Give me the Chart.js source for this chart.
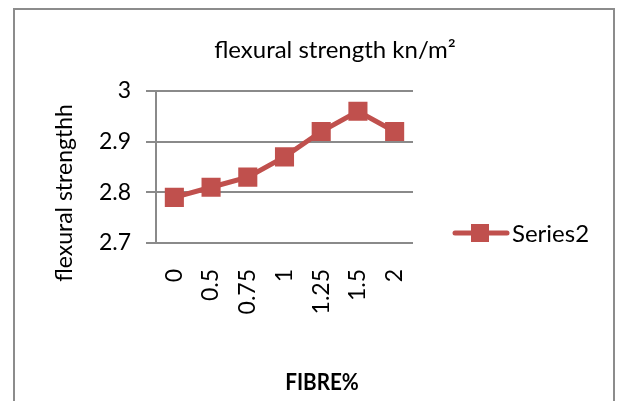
<!DOCTYPE html>
<html>
<head>
<meta charset="utf-8">
<script src="https://cdn.jsdelivr.net/npm/chart.js@4"></script>
<style>
  html, body { margin: 0; padding: 0; background: #fff; }
  #wrap { width: 618px; height: 401px; }
</style>
</head>
<body>
<div id="wrap"><canvas id="c" width="618" height="401"></canvas></div>
<script>
// Flexural strength against fibre content
const fibrePercent = ['0', '0.5', '0.75', '1', '1.25', '1.5', '2'];
const flexuralStrength = [2.79, 2.81, 2.83, 2.87, 2.92, 2.96, 2.92];
const yTicks = [2.7, 2.8, 2.9, 3];

const chartTitle = 'flexural strength kn/m²';
const xTitle = 'FIBRE%';
const yTitle = 'flexural strengthh';
const seriesName = 'Series2';

const FONT = 'Lato, "Noto Sans", sans-serif';
const RED = '#C0504D';
const GRID = '#8a8a8a';

// Title, axis titles, legend and outer frame
const decorations = {
  id: 'decorations',
  beforeDraw(chart) {
    const ctx = chart.ctx;
    ctx.save();
    ctx.fillStyle = '#fff';
    ctx.fillRect(0, 0, chart.width, chart.height);
    ctx.restore();
  },
  afterDraw(chart) {
    const ctx = chart.ctx;
    ctx.save();
    ctx.fillStyle = '#000';
    ctx.textAlign = 'center';
    ctx.textBaseline = 'middle';

    ctx.font = '24px ' + FONT;
    ctx.fillText(chartTitle, 335, 50);

    // bold axis title, slightly condensed
    ctx.save();
    ctx.translate(322, 383);
    ctx.scale(0.9, 1);
    ctx.font = 'bold 23px ' + FONT;
    ctx.fillText(xTitle, 0, 0);
    ctx.restore();

    ctx.save();
    ctx.translate(65, 193);
    ctx.rotate(-Math.PI / 2);
    ctx.font = '23px ' + FONT;
    ctx.fillText(yTitle, 0, 0);
    ctx.restore();

    // legend entry
    const ds = chart.data.datasets[0];
    ctx.strokeStyle = ds.borderColor;
    ctx.lineWidth = 5;
    ctx.lineCap = 'round';
    ctx.beginPath();
    ctx.moveTo(455, 233);
    ctx.lineTo(507, 233);
    ctx.stroke();
    ctx.fillStyle = ds.pointBackgroundColor;
    ctx.fillRect(471, 224, 18, 18);
    ctx.fillStyle = '#000';
    ctx.textAlign = 'left';
    ctx.font = '24px ' + FONT;
    ctx.fillText(ds.label, 512, 234);

    // outer frame
    ctx.strokeStyle = '#8c8c8c';
    ctx.lineWidth = 2;
    ctx.strokeRect(14, 9, 600, 420);
    ctx.restore();
  }
};

new Chart(document.getElementById('c'), {
  type: 'line',
  data: {
    labels: fibrePercent,
    datasets: [{
      label: seriesName,
      data: flexuralStrength,
      borderColor: RED,
      backgroundColor: RED,
      pointBackgroundColor: RED,
      pointBorderColor: RED,
      borderWidth: 5,
      pointStyle: 'rect',
      pointRadius: 13.5,
      pointBorderWidth: 0,
      tension: 0
    }]
  },
  options: {
    responsive: false,
    animation: false,
    devicePixelRatio: 1,
    layout: { padding: { left: 0, top: 91, right: 205, bottom: 0 } },
    plugins: {
      legend: { display: false },
      title: { display: false },
      tooltip: { enabled: false }
    },
    scales: {
      x: {
        offset: true,
        grid: { display: false },
        border: { display: false },
        ticks: {
          color: '#000',
          font: { family: FONT, size: 23 },
          minRotation: 90,
          maxRotation: 90,
          padding: 18,
          autoSkip: false
        },
        afterFit(scale) { scale.height = 158; }
      },
      y: {
        min: 2.7,
        max: 3,
        afterBuildTicks(scale) { scale.ticks = yTicks.map(v => ({ value: v })); },
        grid: { color: GRID, lineWidth: 2, tickLength: 10 },
        border: { display: true, color: GRID, width: 2 },
        ticks: {
          color: '#000',
          font: { family: FONT, size: 23 },
          padding: 15,
          callback: v => String(v)
        },
        afterFit(scale) { scale.width = 156; }
      }
    }
  },
  plugins: [decorations]
});
</script>
</body>
</html>
